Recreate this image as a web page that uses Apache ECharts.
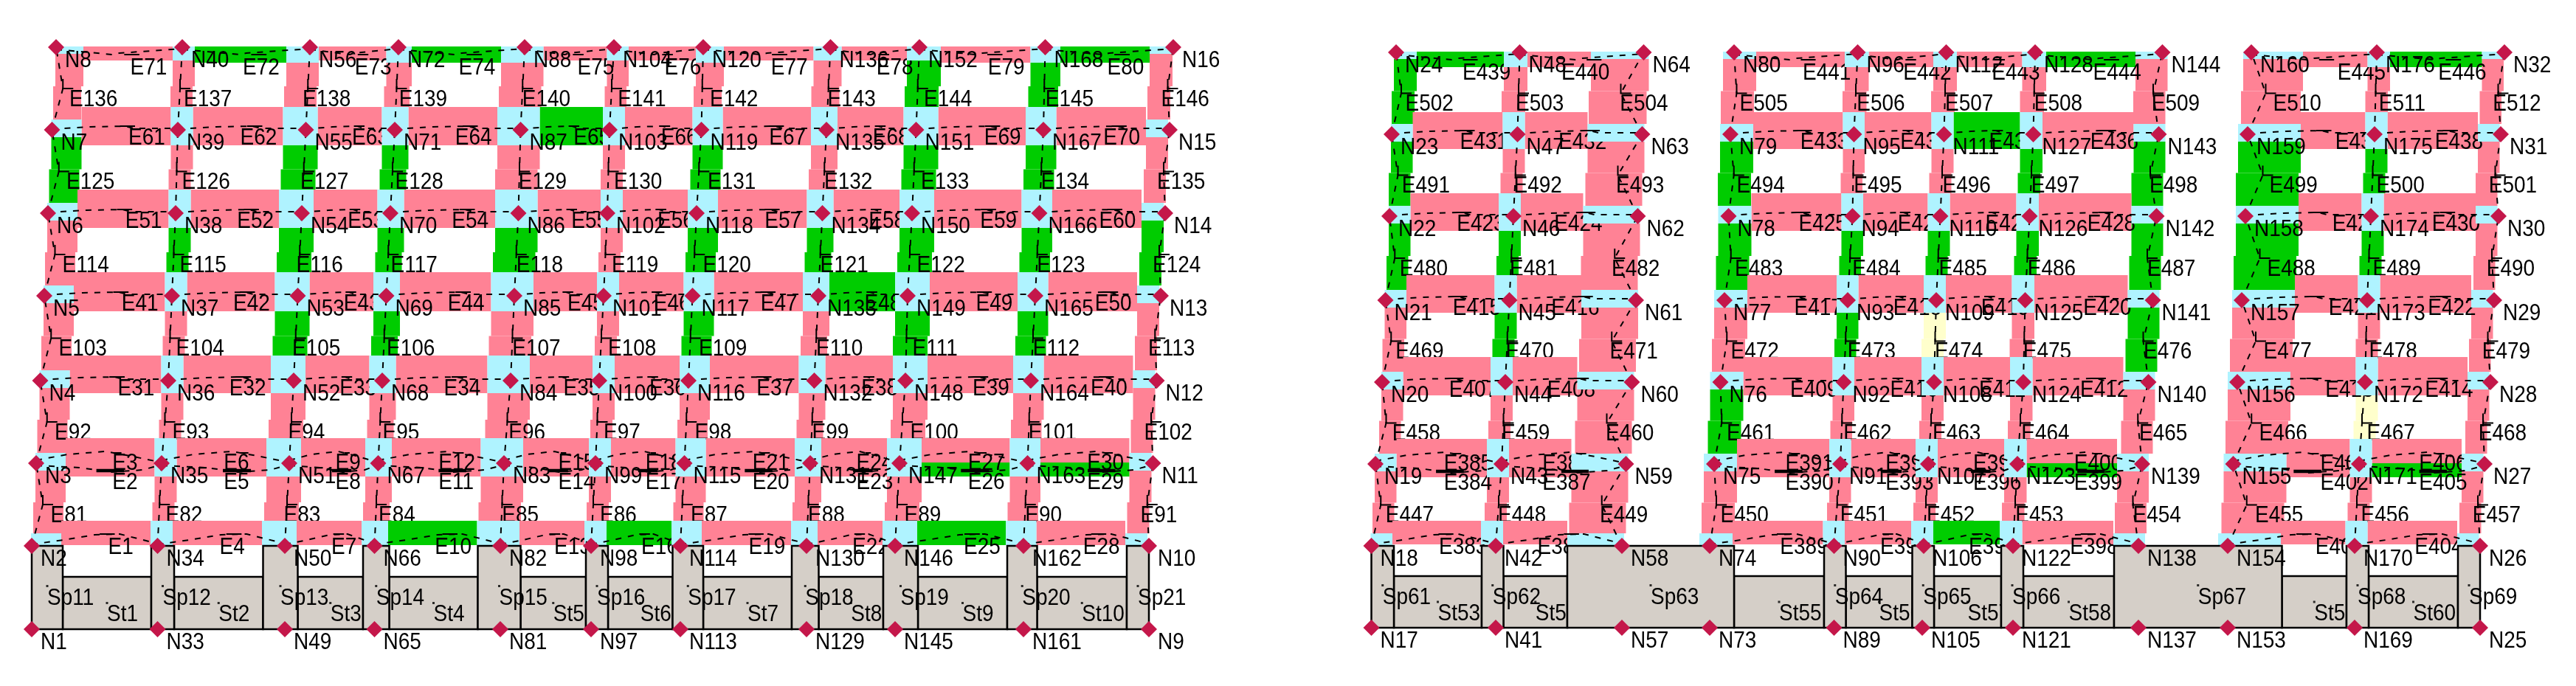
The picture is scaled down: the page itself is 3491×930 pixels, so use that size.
<!DOCTYPE html>
<html>
<head>
<meta charset="utf-8">
<title>Frames</title>
<script src="https://cdn.jsdelivr.net/npm/echarts@6/dist/echarts.min.js"></script>
<style>
html, body { margin: 0; padding: 0; background: #fff; }
#main { width: 3491px; height: 930px; }
</style>
</head>
<body>
<div id="main"></div>
<script>
/*----- left frame -----*/
var leftRowY = [853, 740, 628, 516, 401, 289, 176, 64];
var leftNodeIds = [1, 33, 49, 65, 81, 97, 113, 129, 145, 161, 9];
var leftNodeX = [
	[43, 43, 49, 54.5, 60, 65, 70.5, 76],
	[213.5, 213.5, 219, 228, 233, 238, 241, 247],
	[386, 386, 392, 398, 403.5, 409, 414.5, 420],
	[507.5, 507.5, 512.5, 518, 523.5, 529, 535, 540],
	[678, 678, 683, 692, 697, 702.5, 705.5, 711],
	[801, 801, 807, 812, 818, 823, 826, 832],
	[922, 922, 927.5, 933, 938.5, 944, 950.5, 953],
	[1093, 1093, 1098, 1103.5, 1109, 1114.5, 1120, 1125.5],
	[1213, 1213, 1219, 1227, 1230, 1236, 1241.5, 1246],
	[1387, 1387, 1392.5, 1397, 1403, 1408.5, 1414, 1416.5],
	[1557, 1557, 1562.5, 1567.5, 1573, 1579, 1585, 1590]
];
var leftBands = [null, [706, 739], [594, 646], [482, 533], [369, 422], [257, 309], [145, 197], [63, 82]];
var leftSecL = [-1, -9.5, -31, -17.5, -31.5, -9, -12, -21, -17, -24, -32];
var leftSecR = [40, 20.5, 16, 18.5, 26, 21, 29, 15, 30, 17.5, -2];
var leftTopL = [-1, -13, -32, -16.5, -32, -9.5, -10, -23, -17, -20, -32];
var leftTopR = [37, 17, 12, 18, 25.5, 20, 28, 15, 29, 20.5, -1];
var leftTopJointBottom = [73, 82, 85, 85, 85, 82, 85, 82, 82, 85, 73];
var leftTopBeamBottom = [82, 85, 82, 85, 82, 82, 82, 82, 85, 85];
var leftEdgeCols = [0, 10];
var leftBulge = [12, 0, 0, 0, 0, 0, 0, 0, 0, 0, -5];
var leftBays = [0, 1, 2, 3, 4, 5, 6, 7, 8, 9];
var leftBeamFirst = [1, 2, 3, 31, 41, 51, 61, 71];
var leftColFirst = [81, 92, 103, 114, 125, 136];
var leftSpL = [43, 205, 356.5, 492, 647.5, 794, 911.5, 1073, 1197, 1365, 1527];
var leftSpR = [85, 236, 403.5, 527.5, 705.5, 824, 953, 1109.5, 1244, 1405.5, 1557];
var leftSpNames = ['Sp11', 'Sp12', 'Sp13', 'Sp14', 'Sp15', 'Sp16', 'Sp17', 'Sp18', 'Sp19', 'Sp20', 'Sp21'];
var leftStNames = ['St1', 'St2', 'St3', 'St4', 'St5', 'St6', 'St7', 'St8', 'St9', 'St10'];

/*----- right frame -----*/
var rightRowY = [851, 740, 629, 518, 407, 293, 182, 71];
var rightNodeIds = [17, 41, 57, 73, 89, 105, 121, 137, 153, 169, 25];
var rightNodeX = [
	[1858.5, 1858.5, 1864, 1873, 1877.5, 1883, 1886, 1892],
	[2027, 2027, 2035, 2040, 2045.5, 2051, 2056.5, 2059.5],
	[2198, 2198, 2203.5, 2211.5, 2217, 2219.5, 2225.5, 2227.5],
	[2317, 2317, 2323, 2331.5, 2337, 2342.5, 2345, 2350],
	[2485.5, 2485.5, 2494, 2498.5, 2504, 2510.5, 2512.5, 2517.5],
	[2605, 2607, 2613, 2621, 2624, 2629.5, 2634.5, 2637.5],
	[2728, 2728, 2734, 2742, 2744.5, 2750.5, 2755.5, 2758],
	[2898, 2898, 2903, 2911.5, 2917.5, 2922.5, 2925.5, 2930.5],
	[3019, 3019, 3026.5, 3032, 3038, 3043, 3046, 3051],
	[3191, 3191, 3197, 3205, 3208, 3213, 3218, 3221],
	[3361, 3361, 3367, 3375, 3380, 3386, 3389, 3394]
];
var rightBands = [null, [706, 738], [595, 647], [484, 536], [373, 424], [262, 313], [152, 202], [70, 91]];
var rightSecL = [-1, -20, -74, -14, -15, -17, -18, -34, -13, -12.5, -31];
var rightSecR = [28.5, 10, 3, 31, 14.5, 13, 12.5, 9, 72, 17.5, -1.5];
var rightTopL = [-3, -21.5, -71.5, -15, -17.5, -17.5, -17.5, -36.5, -11, -12.5, -30.5];
var rightTopR = [28, 10.5, 7, 30, 15, 14.5, 15, 7, 70, 18, -1];
var rightTopJointBottom = [81, 91, 81, 81, 91, 91, 91, 81, 81, 91, 81];
var rightTopBeamBottom = [91, 91, 91, 91, 91, 91, 91, 91];
var rightEdgeCols = [0, 2, 3, 7, 8, 10];
var rightBulge = [10, 0, -30, 6, 0, 0, 0, -10, 22, 0, -6];
var rightBays = [0, 1, 3, 4, 5, 6, 8, 9];
var rightBeamFirst = [383, 384, 385, 407, 415, 423, 431, 439];
var rightColFirst = [447, 458, 469, 480, 491, 502];
var rightSpL = [1858.5, 2008, 2124, 2472, 2591.5, 2712, 2865, 3180, 3331];
var rightSpR = [1889, 2037.5, 2350, 2501.5, 2621, 2742, 3092.5, 3210, 3361];
var rightSpNames = ['Sp61', 'Sp62', 'Sp63', 'Sp64', 'Sp65', 'Sp66', 'Sp67', 'Sp68', 'Sp69'];
var rightStNames = ['St53', 'St54', 'St55', 'St56', 'St57', 'St58', 'St59', 'St60'];

/*----- element states -----*/
var greenElements = [72, 74, 80, 65, 48, 26, 29, 10, 16, 25,
	144, 145, 125, 127, 128, 131, 133, 134, 115, 116, 117, 118, 120, 121, 122, 123, 124, 105, 106, 109, 111, 112,
	439, 444, 446, 435, 399, 405, 395,
	502, 491, 494, 497, 498, 499, 500, 480, 481, 483, 484, 485, 486, 487, 488, 489, 470, 473, 476, 461];
var yellowElements = [474, 467];

var COLORS = { pink: '#ff8295', green: '#00cc00', yellow: '#ffffcc', joint: '#aff3ff', wall: '#d5cfc8', node: '#c4174a' };
var FONT = '28px "Liberation Sans", Arial, sans-serif';

function stateColor(id) {
	if (greenElements.indexOf(id) >= 0) return COLORS.green;
	if (yellowElements.indexOf(id) >= 0) return COLORS.yellow;
	return COLORS.pink;
}

/*----- deflected line shapes, [position along the beam, offset] -----*/
var arcBottom = [[0, -2], [0.25, -8], [0.5, -15], [0.7, -16], [1, -3]];
var arcUpper = [[0, -4], [0.25, -12], [0.55, -16], [0.75, -10], [1, -1]];
var arcLower = [[0, 3], [0.35, 6], [0.6, 12], [0.85, 9], [1, 2]];
var arcMiddle = [[0, -1], [0.3, -4], [0.58, -5], [0.65, -2], [1, -2]];
var arcTop = [[0, 3], [0.45, 10], [0.5, 8], [1, 2]];

var frames = [
	{ rowY: leftRowY, ids: leftNodeIds, nodeX: leftNodeX, bands: leftBands, secL: leftSecL, secR: leftSecR, topL: leftTopL, topR: leftTopR,
		topJointBottom: leftTopJointBottom, topBeamBottom: leftTopBeamBottom, edge: leftEdgeCols, bulge: leftBulge, bays: leftBays,
		beamFirst: leftBeamFirst, colFirst: leftColFirst, spL: leftSpL, spR: leftSpR, spNames: leftSpNames, stNames: leftStNames, stTop: 782 },
	{ rowY: rightRowY, ids: rightNodeIds, nodeX: rightNodeX, bands: rightBands, secL: rightSecL, secR: rightSecR, topL: rightTopL, topR: rightTopR,
		topJointBottom: rightTopJointBottom, topBeamBottom: rightTopBeamBottom, edge: rightEdgeCols, bulge: rightBulge, bays: rightBays,
		beamFirst: rightBeamFirst, colFirst: rightColFirst, spL: rightSpL, spR: rightSpR, spNames: rightSpNames, stNames: rightStNames, stTop: 781 }
];

/*----- layers, filled from the arrays above -----*/
var colRects = [], colLabels = [], beamRects = [], beamLabels = [], jointRects = [];
var stRects = [], stLabels = [], spRects = [], spLabels = [], lines = [], ticks = [], nodePoints = [], nodeLabels = [], dots = [];

function jointBox(f, c, r) {
	var x = f.nodeX[c][r], y = f.rowY[r];
	var top = r === 7;
	var box = [x + (top ? f.topL[c] : f.secL[c]), 0, x + (top ? f.topR[c] : f.secR[c]), 0];
	if (f.edge.indexOf(c) >= 0) {
		if (r === 1) { box[1] = y - 17; box[3] = y - 1; }
		else if (top) { box[1] = y - 1; box[3] = y + 9; }
		else { box[1] = y - 14; box[3] = y + 10; }
	} else {
		box[1] = f.bands[r][0];
		box[3] = top ? f.topJointBottom[c] : f.bands[r][1];
	}
	return box;
}

function beamLine(a, b, y, shape) {
	var pts = [];
	shape.forEach(function(s) { pts.push([a + (b - a) * s[0], y + s[1]]); });
	lines.push(pts);
}

frames.forEach(function(f) {
	var c, r, i;
	// nodes
	for (c = 0; c < f.nodeX.length; c++) {
		for (r = 0; r < 8; r++) {
			nodePoints.push([f.nodeX[c][r], f.rowY[r]]);
			nodeLabels.push({ pos: [f.nodeX[c][r] + 12, f.rowY[r] + 18], text: 'N' + (f.ids[c] + r) });
			if (r > 0) jointRects.push({ box: jointBox(f, c, r), color: COLORS.joint });
		}
	}
	// columns
	for (c = 0; c < f.nodeX.length; c++) {
		for (r = 1; r < 7; r++) {
			var id = f.colFirst[r - 1] + c;
			var up = jointBox(f, c, r + 1), low = jointBox(f, c, r);
			var midY = (f.rowY[r] + f.rowY[r + 1]) / 2;
			var midX = (f.nodeX[c][r] + f.nodeX[c][r + 1]) / 2 + f.bulge[c];
			var color = stateColor(id);
			colRects.push({ box: [up[0], up[3], up[2], midY - 3], color: color });
			colRects.push({ box: [up[0] - 3, midY - 3, up[2] - 3, low[1]], color: color });
			colLabels.push({ pos: [(up[0] + up[2]) / 2, midY + 15], text: 'E' + id });
			lines.push([[f.nodeX[c][r], f.rowY[r]], [midX, midY], [f.nodeX[c][r + 1], f.rowY[r + 1]]]);
			ticks.push({ pts: [[midX, midY - 13], [midX, midY], [midX + 14, midY]], width: 2 });
		}
	}
	// beams
	f.bays.forEach(function(left, b) {
		var right = left + 1;
		for (r = 1; r < 8; r++) {
			var jl = jointBox(f, left, r), jr = jointBox(f, right, r);
			var band = f.bands[r];
			var y = f.rowY[r];
			var a = f.nodeX[left][r], z = f.nodeX[right][r];
			var labelX = (jl[2] + jr[0]) / 2 + 3;
			if (r === 2) {
				var lowerId = f.beamFirst[1] + 3 * b, upperId = f.beamFirst[2] + 3 * b;
				beamRects.push({ box: [jl[2], band[0], jr[0], y - 1], color: stateColor(upperId) });
				beamRects.push({ box: [jl[2], y - 1, jr[0], band[1]], color: stateColor(lowerId) });
				beamLabels.push({ pos: [labelX, y], text: 'E' + upperId });
				beamLabels.push({ pos: [labelX, y + 26], text: 'E' + lowerId });
				beamLine(a, z, y, arcUpper);
				beamLine(a, z, y, arcLower);
				ticks.push({ pts: [[a + (z - a) * 0.48, y + 10], [a + (z - a) * 0.7, y + 10]], width: 4.5 });
				ticks.push({ pts: [[a + (z - a) * 0.62, y - 14], [a + (z - a) * 0.68, y - 14]], width: 2 });
			} else {
				var bid = r === 1 ? f.beamFirst[0] + 3 * b : f.beamFirst[r] + b;
				var bottom = r === 7 ? f.topBeamBottom[b] : band[1];
				var dy = r === 1 ? 2 : (r === 7 ? 28 : 11);
				beamRects.push({ box: [jl[2], band[0], jr[0], bottom], color: stateColor(bid) });
				beamLabels.push({ pos: [labelX, y + dy], text: 'E' + bid });
				beamLine(a, z, y, r === 1 ? arcBottom : (r === 7 ? arcTop : arcMiddle));
				ticks.push({ pts: [[a + (z - a) * 0.54, y + (r === 7 ? 10 : (r === 1 ? -16 : -5))], [a + (z - a) * 0.66, y + (r === 7 ? 10 : (r === 1 ? -16 : -5))]], width: 2 });
			}
		}
	});
	// supports and storey panels at the bottom
	var base = f.rowY[0], floor = f.rowY[1];
	for (i = 0; i < f.spL.length; i++) {
		spRects.push({ box: [f.spL[i], floor, f.spR[i], base], color: COLORS.wall });
		spLabels.push({ pos: [(f.spL[i] + f.spR[i]) / 2, (floor + base) / 2 + 15], text: f.spNames[i] });
		dots.push([(f.spL[i] + f.spR[i]) / 2, (floor + base) / 2 - 2]);
	}
	for (i = 0; i < f.stNames.length; i++) {
		stRects.push({ box: [f.spR[i], f.stTop, f.spL[i + 1], base], color: COLORS.wall });
		stLabels.push({ pos: [(f.spR[i] + f.spL[i + 1]) / 2, (f.stTop + base) / 2 + 16], text: f.stNames[i] });
		dots.push([(f.spR[i] + f.spL[i + 1]) / 2, (f.stTop + base) / 2]);
	}
});

/*----- series helpers -----*/
function rectSeries(items, z, border) {
	return {
		type: 'custom', coordinateSystem: 'cartesian2d', z: z, silent: true, clip: false,
		data: items.map(function(d) { return d.box; }),
		renderItem: function(params, api) {
			var p1 = api.coord([api.value(0), api.value(1)]);
			var p2 = api.coord([api.value(2), api.value(3)]);
			return {
				type: 'rect',
				shape: { x: p1[0], y: p1[1], width: p2[0] - p1[0], height: p2[1] - p1[1] },
				style: { fill: items[params.dataIndex].color, stroke: border ? '#000' : null, lineWidth: border ? 2.5 : 0 }
			};
		}
	};
}

function textSeries(items, z) {
	return {
		type: 'custom', coordinateSystem: 'cartesian2d', z: z, silent: true, clip: false,
		data: items.map(function(d) { return d.pos; }),
		renderItem: function(params, api) {
			var p = api.coord([api.value(0), api.value(1)]);
			return {
				type: 'text', x: p[0], y: p[1], scaleY: 1.12,
				style: { text: items[params.dataIndex].text, font: FONT, fill: '#000', align: 'left', verticalAlign: 'middle' }
			};
		}
	};
}

function lineSeries(paths, z, dashed, widths) {
	return {
		type: 'custom', coordinateSystem: 'cartesian2d', z: z, silent: true, clip: false,
		data: paths.map(function(d, i) { return [i, d[0][0], d[0][1]]; }),
		renderItem: function(params, api) {
			var pts = paths[params.dataIndex].map(function(q) { return api.coord(q); });
			return {
				type: 'polyline',
				shape: { points: pts },
				style: { fill: null, stroke: '#000', lineWidth: widths ? widths[params.dataIndex] : 2, lineDash: dashed ? [8, 9] : null }
			};
		},
		encode: { x: 1, y: 2 }
	};
}

var chart = echarts.init(document.getElementById('main'));
chart.setOption({
	animation: false,
	backgroundColor: '#fff',
	grid: { left: 0, right: 0, top: 0, bottom: 0 },
	xAxis: { type: 'value', min: 0, max: 3491, show: false },
	yAxis: { type: 'value', min: 0, max: 930, inverse: true, show: false },
	series: [
		rectSeries(colRects, 2, false),
		textSeries(colLabels, 3),
		rectSeries(beamRects, 4, false),
		textSeries(beamLabels, 5),
		rectSeries(jointRects, 6, false),
		rectSeries(stRects, 7, true),
		textSeries(stLabels, 8),
		rectSeries(spRects, 9, true),
		textSeries(spLabels, 10),
		lineSeries(lines, 11, true),
		lineSeries(ticks.map(function(t) { return t.pts; }), 12, false, ticks.map(function(t) { return t.width; })),
		{
			type: 'scatter', z: 13, silent: true, symbol: 'rect', symbolSize: 3,
			itemStyle: { color: '#000' }, data: dots
		},
		{
			type: 'scatter', z: 14, silent: true, symbol: 'diamond', symbolSize: 22,
			itemStyle: { color: COLORS.node, opacity: 1 }, data: nodePoints
		},
		textSeries(nodeLabels, 15)
	]
});
</script>
</body>
</html>
